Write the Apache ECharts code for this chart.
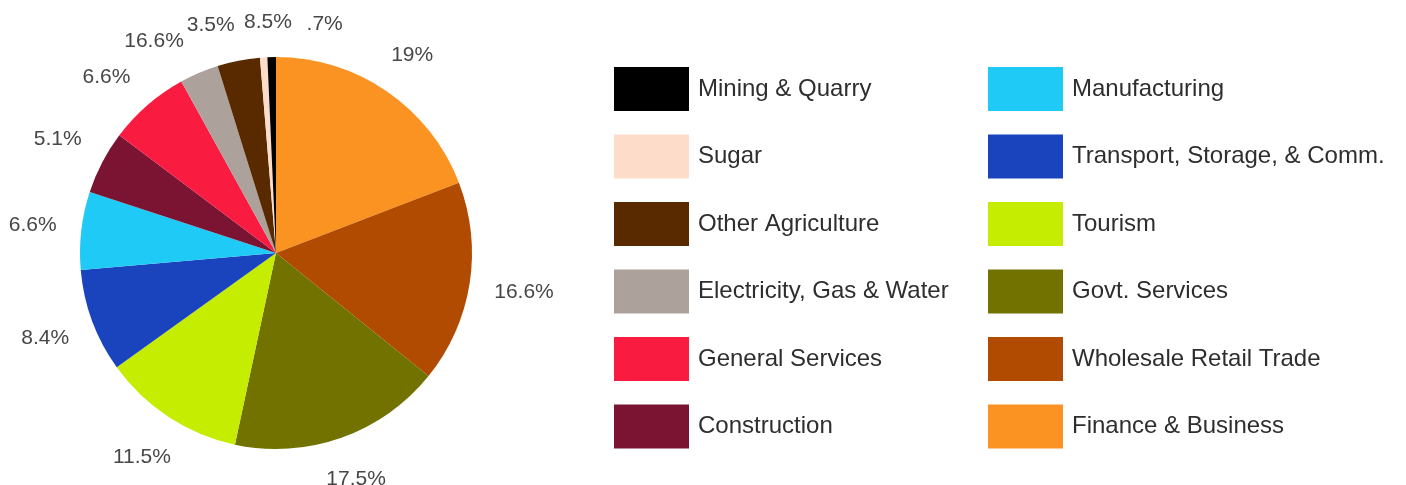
<!DOCTYPE html>
<html>
<head>
<meta charset="utf-8">
<script src="https://cdn.jsdelivr.net/npm/echarts@6/dist/echarts.min.js"></script>
<style>
html,body{margin:0;padding:0;background:#fff;}
#c{width:1406px;height:485px;}
</style>
</head>
<body>
<div id="c"></div>
<script>
// Slices in clockwise order starting at 12 o'clock
const sectors = ["Finance & Business","Wholesale Retail Trade","Govt. Services","Tourism","Transport, Storage, & Comm.","Manufacturing","Construction","General Services","Electricity, Gas & Water","Other Agriculture","Sugar","Mining & Quarry"];
const shares = [19.1, 16.6, 17.5, 11.7, 8.5, 6.4, 5.2, 6.7, 3.2, 3.5, 0.6, 0.7];
const labelTexts = ["19%","16.6%","17.5%","11.5%","8.4%","6.6%","5.1%","6.6%","16.6%","3.5%","8.5%",".7%"];
const colors = ["#FB9322","#B24B02","#727200","#C5ED02","#1A43BE","#20CAF6","#7A1432","#F91B40","#ADA19C","#592900","#FDDDC9","#000000"];
const legendCol1 = ["Mining & Quarry","Sugar","Other Agriculture","Electricity, Gas & Water","General Services","Construction"];
const legendCol2 = ["Manufacturing","Transport, Storage, & Comm.","Tourism","Govt. Services","Wholesale Retail Trade","Finance & Business"];

const FONT = 'Liberation Sans, Arial, sans-serif';
const CX = 276, CY = 253, R = 196, LABEL_GAP = 24, LABEL_SIZE = 21, MIN_SEP = 14;

// Label at each slice's middle angle, spread apart along the circle where slices are too thin
function computeLabelPositions() {
  const ctx = document.createElement('canvas').getContext('2d');
  ctx.font = LABEL_SIZE + 'px ' + FONT;
  const total = shares.reduce((a, b) => a + b, 0);
  let cum = 0;
  const ang = shares.map(v => { const a = (cum + v / 2) / total * 360; cum += v; return a; });
  const n = ang.length;
  for (let it = 0; it < 2000; it++) {
    let moved = false;
    for (let i = 0; i < n; i++) {
      const j = (i + 1) % n;
      let sep = ang[j] - ang[i];
      if (j === 0) sep += 360;
      if (sep < MIN_SEP - 1e-6) {
        const d = (MIN_SEP - sep) / 2;
        ang[i] -= d; ang[j] += d; moved = true;
      }
    }
    if (!moved) break;
  }
  return ang.map((deg, i) => {
    const a = deg * Math.PI / 180;
    const w = ctx.measureText(labelTexts[i]).width, h = LABEL_SIZE;
    const s = Math.sin(a), c = Math.cos(a);
    const rr = R + LABEL_GAP + Math.abs(s) * w / 2 + Math.abs(c) * h / 2;
    return {x: CX + rr * s, y: CY - rr * c};
  });
}
const labelPos = computeLabelPositions();

const chart = echarts.init(document.getElementById('c'), null, {renderer:'canvas'});
const legendCommon = {
  orient: 'vertical',
  itemWidth: 75,
  itemHeight: 44,
  itemGap: 23.5,
  icon: 'rect',
  padding: 0,
  selectedMode: false,
  textStyle: {fontFamily: FONT, fontSize: 24, color: '#2e2e2e', padding: [0,0,0,4]}
};
chart.setOption({
  backgroundColor: '#ffffff',
  animation: false,
  legend: [
    Object.assign({}, legendCommon, {left: 614, top: 67, data: legendCol1}),
    Object.assign({}, legendCommon, {left: 988, top: 67, data: legendCol2})
  ],
  series: [
    {
      type: 'pie',
      center: [CX, CY],
      radius: [0, R],
      startAngle: 90,
      clockwise: true,
      avoidLabelOverlap: false,
      label: {
        show: true,
        position: 'outside',
        formatter: p => labelTexts[p.dataIndex],
        fontFamily: FONT,
        fontSize: LABEL_SIZE,
        color: '#474747'
      },
      labelLine: {show: false},
      labelLayout: params => {
        const p = labelPos[params.dataIndex];
        return {x: p.x, y: p.y, align: 'center', verticalAlign: 'middle'};
      },
      itemStyle: {borderWidth: 0},
      data: sectors.map((n, i) => ({name: n, value: shares[i], itemStyle: {color: colors[i]}}))
    }
  ]
});
</script>
</body>
</html>
